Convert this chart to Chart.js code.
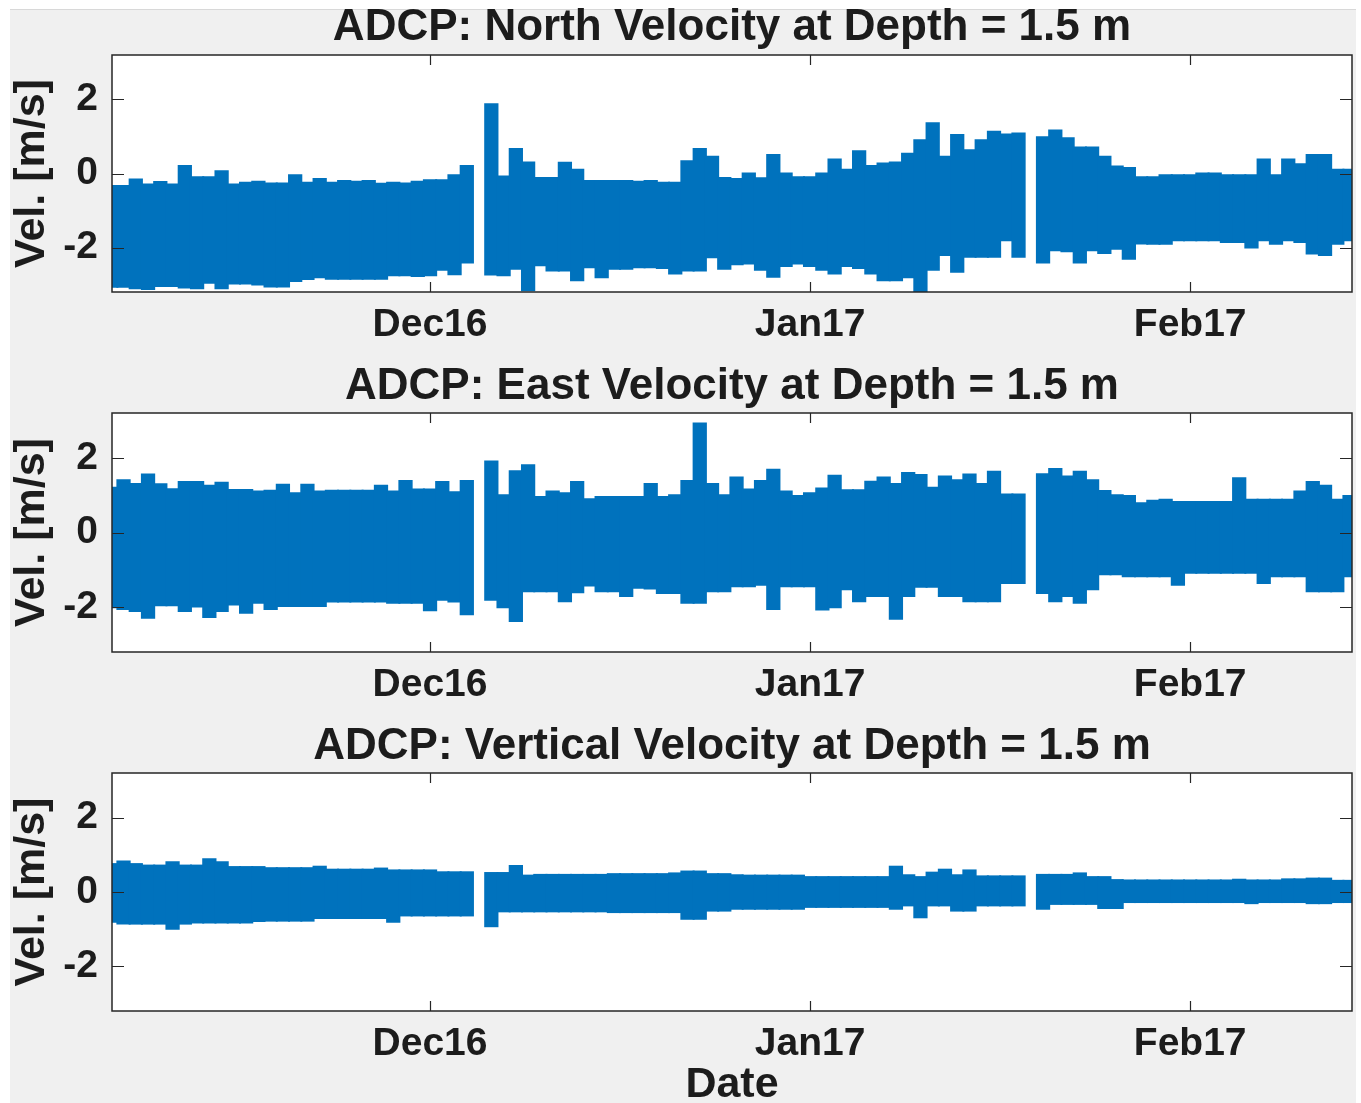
<!DOCTYPE html>
<html>
<head>
<meta charset="utf-8">
<title>ADCP velocities</title>
<script src="https://cdn.jsdelivr.net/npm/chart.js@4.4.1/dist/chart.umd.min.js"></script>
<style>
  html, body { margin: 0; padding: 0; background: #fff; overflow: hidden; }
  #fig { position: absolute; left: 10px; top: 9px; width: 1346px; height: 1094px; background: #f0f0f0; border-top: 1px solid #d8d8d8; }
  canvas { position: absolute; left: 0; }
</style>
</head>
<body>
<div id="fig"></div>
<canvas id="north" width="1361" height="360" style="top:0px"></canvas>
<canvas id="east" width="1361" height="360" style="top:360px"></canvas>
<canvas id="vert" width="1361" height="391" style="top:720px"></canvas>
<script>
// time axis: days since 1 Nov 2016 (one bin per day)
const days = [4, 5, 6, 7, 8, 9, 10, 11, 12, 13,
  14, 15, 16, 17, 18, 19, 20, 21, 22, 23,
  24, 25, 26, 27, 28, 29, 30, 31, 32, 33,
  34, 35, 36, 37, 38, 39, 40, 41, 42, 43,
  44, 45, 46, 47, 48, 49, 50, 51, 52, 53,
  54, 55, 56, 57, 58, 59, 60, 61, 62, 63,
  64, 65, 66, 67, 68, 69, 70, 71, 72, 73,
  74, 75, 76, 77, 78, 79, 80, 81, 82, 83,
  84, 85, 86, 87, 88, 89, 90, 91, 92, 93,
  94, 95, 96, 97, 98, 99, 100, 101, 102, 103,
  104, 105];

const tickDays = [30, 61, 92];
const tickLabels = ['Dec16', 'Jan17', 'Feb17'];
const yTicks = [-2, 0, 2];

// daily max / min of each component [m/s], null = no data
const northHigh = [-0.34, -0.34, -0.16, -0.3, -0.23, -0.3, 0.2, -0.1, -0.1, 0.06,
  -0.3, -0.25, -0.22, -0.27, -0.27, -0.05, -0.25, -0.15, -0.25, -0.2,
  -0.22, -0.2, -0.28, -0.25, -0.27, -0.22, -0.18, -0.18, -0.05, 0.2,
  null, 1.87, -0.08, 0.66, 0.3, -0.12, -0.12, 0.29, 0.1, -0.2,
  -0.2, -0.2, -0.2, -0.22, -0.2, -0.25, -0.25, 0.33, 0.66, 0.45,
  -0.12, -0.15, 0.0, -0.13, 0.5, 0.0, -0.1, -0.1, 0.0, 0.38,
  0.1, 0.6, 0.2, 0.27, 0.3, 0.53, 0.9, 1.36, 0.45, 1.04,
  0.63, 0.9, 1.13, 1.05, 1.08, null, 0.98, 1.16, 0.95, 0.7,
  0.7, 0.45, 0.19, 0.15, -0.1, -0.1, -0.05, -0.05, -0.05, 0.0,
  0.0, -0.05, -0.05, -0.05, 0.38, -0.05, 0.38, 0.25, 0.5, 0.5,
  0.1, 0.1];
const northLow = [-3.06, -3.06, -3.1, -3.12, -3.04, -3.04, -3.08, -3.1, -2.95, -3.1,
  -2.97, -2.97, -3.0, -3.05, -3.05, -2.9, -2.85, -2.8, -2.84, -2.84,
  -2.84, -2.84, -2.84, -2.75, -2.75, -2.77, -2.75, -2.6, -2.72, -2.4,
  null, -2.73, -2.75, -2.57, -3.15, -2.48, -2.62, -2.62, -2.88, -2.53,
  -2.8, -2.57, -2.57, -2.53, -2.53, -2.55, -2.7, -2.62, -2.62, -2.26,
  -2.57, -2.45, -2.43, -2.6, -2.79, -2.5, -2.43, -2.5, -2.6, -2.7,
  -2.5, -2.55, -2.7, -2.88, -2.88, -2.8, -3.19, -2.6, -2.2, -2.65,
  -2.25, -2.25, -2.25, -1.8, -2.25, null, -2.4, -2.07, -2.1, -2.4,
  -2.07, -2.15, -2.03, -2.3, -1.89, -1.9, -1.9, -1.8, -1.8, -1.8,
  -1.8, -1.85, -1.85, -2.0, -1.8, -1.9, -1.8, -1.85, -2.16, -2.2,
  -1.9, -1.8];

const eastHigh = [1.2, 1.4, 1.3, 1.55, 1.29, 1.16, 1.35, 1.35, 1.25, 1.33,
  1.14, 1.14, 1.1, 1.12, 1.28, 1.05, 1.28, 1.1, 1.12, 1.12,
  1.12, 1.12, 1.25, 1.1, 1.38, 1.15, 1.15, 1.35, 1.08, 1.38,
  null, 1.9, 1.0, 1.64, 1.8, 0.95, 1.1, 1.05, 1.35, 0.89,
  0.95, 0.95, 0.95, 0.95, 1.3, 0.95, 1.0, 1.38, 2.92, 1.3,
  1.0, 1.47, 1.15, 1.38, 1.68, 1.1, 0.98, 1.05, 1.18, 1.52,
  1.13, 1.13, 1.36, 1.47, 1.3, 1.59, 1.54, 1.2, 1.5, 1.4,
  1.55, 1.3, 1.63, 1.02, 1.02, null, 1.56, 1.7, 1.5, 1.63,
  1.4, 1.11, 1.0, 0.98, 0.78, 0.85, 0.88, 0.82, 0.82, 0.82,
  0.82, 0.82, 1.45, 0.88, 0.88, 0.88, 0.88, 1.1, 1.35, 1.25,
  0.88, 0.98];
const eastLow = [-2.0, -2.05, -2.1, -2.28, -1.95, -1.95, -2.1, -1.98, -2.26, -2.1,
  -1.93, -2.15, -1.88, -2.05, -1.97, -1.97, -1.97, -1.97, -1.85, -1.85,
  -1.85, -1.85, -1.85, -1.88, -1.88, -1.88, -2.08, -1.8, -1.85, -2.19,
  null, -1.8, -2.0, -2.37, -1.57, -1.57, -1.57, -1.84, -1.6, -1.42,
  -1.57, -1.57, -1.7, -1.48, -1.5, -1.62, -1.62, -1.88, -1.88, -1.57,
  -1.57, -1.44, -1.44, -1.4, -2.05, -1.44, -1.44, -1.44, -2.06, -2.0,
  -1.52, -1.84, -1.7, -1.7, -2.31, -1.7, -1.45, -1.45, -1.7, -1.7,
  -1.84, -1.84, -1.84, -1.35, -1.35, null, -1.62, -1.84, -1.7, -1.88,
  -1.52, -1.12, -1.12, -1.17, -1.17, -1.17, -1.17, -1.4, -1.08, -1.08,
  -1.08, -1.08, -1.08, -1.08, -1.35, -1.17, -1.17, -1.17, -1.57, -1.57,
  -1.57, -1.17];

const vertHigh = [0.75, 0.82, 0.75, 0.71, 0.71, 0.8, 0.71, 0.71, 0.88, 0.8,
  0.67, 0.67, 0.67, 0.64, 0.64, 0.64, 0.64, 0.68, 0.6, 0.6,
  0.6, 0.6, 0.63, 0.58, 0.58, 0.58, 0.58, 0.53, 0.53, 0.53,
  null, 0.51, 0.51, 0.7, 0.44, 0.46, 0.46, 0.46, 0.46, 0.46,
  0.46, 0.48, 0.48, 0.48, 0.48, 0.48, 0.5, 0.55, 0.55, 0.48,
  0.48, 0.45, 0.44, 0.44, 0.44, 0.44, 0.44, 0.4, 0.4, 0.4,
  0.4, 0.4, 0.4, 0.4, 0.68, 0.45, 0.4, 0.52, 0.6, 0.45,
  0.58, 0.42, 0.42, 0.42, 0.42, null, 0.46, 0.46, 0.46, 0.5,
  0.4, 0.4, 0.32, 0.31, 0.31, 0.31, 0.31, 0.31, 0.31, 0.31,
  0.31, 0.31, 0.33, 0.31, 0.31, 0.31, 0.34, 0.34, 0.36, 0.36,
  0.3, 0.3];
const vertLow = [-0.8, -0.85, -0.85, -0.85, -0.85, -0.99, -0.85, -0.82, -0.82, -0.82,
  -0.82, -0.82, -0.78, -0.77, -0.77, -0.77, -0.77, -0.7, -0.7, -0.7,
  -0.7, -0.7, -0.7, -0.8, -0.63, -0.63, -0.63, -0.63, -0.63, -0.63,
  null, -0.92, -0.52, -0.52, -0.52, -0.52, -0.52, -0.52, -0.52, -0.52,
  -0.52, -0.54, -0.54, -0.54, -0.54, -0.54, -0.54, -0.72, -0.72, -0.5,
  -0.5, -0.45, -0.45, -0.45, -0.45, -0.45, -0.45, -0.4, -0.4, -0.4,
  -0.4, -0.4, -0.4, -0.4, -0.45, -0.36, -0.68, -0.36, -0.36, -0.5,
  -0.5, -0.36, -0.36, -0.36, -0.36, null, -0.45, -0.32, -0.32, -0.32,
  -0.32, -0.43, -0.43, -0.27, -0.27, -0.27, -0.27, -0.27, -0.27, -0.27,
  -0.27, -0.27, -0.27, -0.3, -0.27, -0.27, -0.27, -0.27, -0.3, -0.3,
  -0.27, -0.27];

const FONT = '"Liberation Sans", Arial, Helvetica, sans-serif';
const INK = '#1c1c1c';
const BLUE = '#0072BD';

// white plot area, box and inward ticks like MATLAB axes
const axesBox = {
  id: 'axesBox',
  beforeDatasetsDraw(chart) {
    const { ctx, chartArea: a } = chart;
    ctx.save();
    ctx.fillStyle = '#fff';
    ctx.fillRect(a.left, a.top, a.right - a.left, a.bottom - a.top);
    ctx.restore();
  },
  afterDatasetsDraw(chart) {
    const { ctx, chartArea: a, scales } = chart;
    ctx.save();
    ctx.strokeStyle = '#262626';
    ctx.lineWidth = 1.5;
    ctx.strokeRect(a.left, a.top, a.right - a.left, a.bottom - a.top);
    ctx.lineWidth = 1.2;
    ctx.beginPath();
    tickDays.forEach(d => {
      const x = Math.round(scales.x.getPixelForValue(d)) + 0.5;
      ctx.moveTo(x, a.bottom); ctx.lineTo(x, a.bottom - 10);
      ctx.moveTo(x, a.top); ctx.lineTo(x, a.top + 10);
    });
    yTicks.forEach(v => {
      const y = Math.round(scales.y.getPixelForValue(v)) + 0.5;
      ctx.moveTo(a.left, y); ctx.lineTo(a.left + 12, y);
      ctx.moveTo(a.right, y); ctx.lineTo(a.right - 12, y);
    });
    ctx.stroke();
    ctx.restore();
  }
};

function makePanel(id, title, high, low, opts) {
  const data = days.map((d, i) => ({ x: d, y: high[i] === null ? null : [low[i], high[i]] }));
  const canvas = document.getElementById(id);
  return new Chart(canvas, {
    type: 'bar',
    data: {
      datasets: [{
        data: data,
        backgroundColor: BLUE,
        borderWidth: 0,
        inflateAmount: 1,
        barPercentage: 1,
        categoryPercentage: 1
      }]
    },
    options: {
      responsive: false,
      animation: false,
      layout: { padding: { top: opts.padTop, right: 9, left: 0, bottom: 0 } },
      plugins: {
        legend: { display: false },
        tooltip: { enabled: false },
        title: {
          display: true,
          fullSize: false,
          text: title,
          color: INK,
          font: { family: FONT, size: 44, weight: 'bold', lineHeight: 1.2 },
          padding: { top: 0, bottom: opts.titleGap }
        }
      },
      scales: {
        x: {
          type: 'linear',
          min: 4.06,
          max: 105.2,
          offset: false,
          grid: { display: false, drawTicks: false },
          border: { display: false },
          afterBuildTicks: s => { s.ticks = tickDays.map(v => ({ value: v })); },
          afterFit: s => { s.height = opts.xHeight; },
          ticks: {
            color: INK,
            padding: 10,
            maxRotation: 0,
            font: { family: FONT, size: 39, weight: 'bold' },
            callback: v => tickLabels[tickDays.indexOf(v)]
          },
          title: {
            display: opts.xTitle,
            text: 'Date',
            color: INK,
            padding: { top: 0, bottom: 0 },
            font: { family: FONT, size: 43, weight: 'bold', lineHeight: 1.2 }
          }
        },
        y: {
          min: -3.2,
          max: 3.2,
          grid: { display: false, drawTicks: false },
          border: { display: false },
          afterBuildTicks: s => { s.ticks = yTicks.map(v => ({ value: v })); },
          afterFit: s => { s.width = 112; },
          ticks: {
            color: INK,
            padding: 14,
            font: { family: FONT, size: 39, weight: 'bold' }
          },
          title: {
            display: true,
            text: 'Vel. [m/s]',
            color: INK,
            padding: { top: 6, bottom: 0 },
            font: { family: FONT, size: 43, weight: 'bold', lineHeight: 1.2 }
          }
        }
      }
    },
    plugins: [axesBox]
  });
}

makePanel('north', 'ADCP: North Velocity at Depth = 1.5 m', northHigh, northLow,
  { padTop: 1, titleGap: 1.2, xHeight: 68, xTitle: false });
makePanel('east', 'ADCP: East Velocity at Depth = 1.5 m', eastHigh, eastLow,
  { padTop: 0, titleGap: 0.2, xHeight: 68, xTitle: false });
makePanel('vert', 'ADCP: Vertical Velocity at Depth = 1.5 m', vertHigh, vertLow,
  { padTop: 0, titleGap: 0.2, xHeight: 100, xTitle: true });
</script>
</body>
</html>
